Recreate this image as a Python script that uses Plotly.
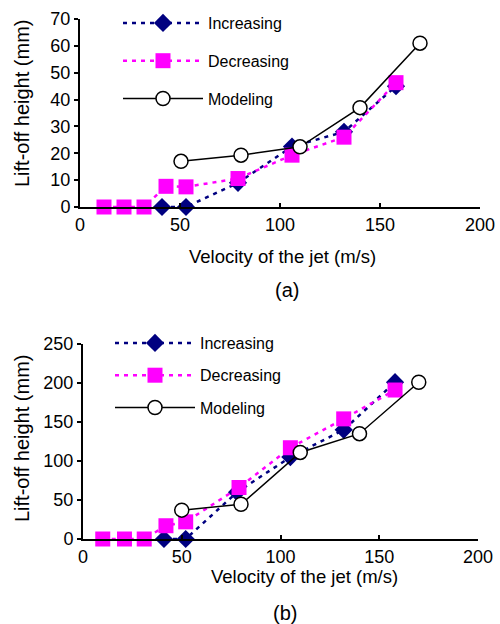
import plotly.graph_objects as go

# ---- data: panel (a) ----
inc_a_x = [41, 53, 79, 106, 132, 158]
inc_a_y = [0, 0, 9, 22.5, 28, 45]
dec_a_x = [12, 22, 32, 43, 53, 79, 106, 132, 158]
dec_a_y = [0, 0, 0, 7.7, 7.5, 10.6, 19.3, 26, 46.3]
mod_a_x = [50.5, 80.5, 110, 140, 170]
mod_a_y = [17, 19.3, 22.4, 37, 61]

# ---- data: panel (b) ----
inc_b_x = [41, 52, 78, 105, 132, 158]
inc_b_y = [0, 0, 60, 105, 140, 201]
dec_b_x = [10, 21, 31, 42, 52, 79, 105, 132, 158]
dec_b_y = [0, 0, 0, 17, 22, 66, 117, 154, 191]
mod_b_x = [50, 80, 110, 140, 170]
mod_b_y = [37, 44.5, 111, 135, 201]

x_ticks = [0, 50, 100, 150, 200]
y_ticks_a = [0, 10, 20, 30, 40, 50, 60, 70]
y_ticks_b = [0, 50, 100, 150, 200, 250]

NAVY = "#000080"
MAG = "#FF00FF"
FONT = "Liberation Sans, Arial, sans-serif"
W, H = 500, 624

fig = go.Figure()

def add_panel(xa, ya, leg, ix, iy, dx, dy, mx, my):
    fig.add_trace(go.Scatter(
        x=ix, y=iy, name="Increasing", mode="lines+markers", cliponaxis=False,
        line=dict(color=NAVY, width=2.5, dash="4px,5px"),
        marker=dict(symbol="diamond", size=14, color=NAVY),
        xaxis=xa, yaxis=ya, legend=leg, legendgroup=leg + "i"))
    fig.add_trace(go.Scatter(
        x=dx, y=dy, name="Decreasing", mode="lines+markers", cliponaxis=False,
        line=dict(color=MAG, width=2.5, dash="4px,5px"),
        marker=dict(symbol="square", size=15, color=MAG),
        xaxis=xa, yaxis=ya, legend=leg, legendgroup=leg + "d"))
    fig.add_trace(go.Scatter(
        x=mx, y=my, name="Modeling", mode="lines+markers", cliponaxis=False,
        line=dict(color="black", width=1.5),
        marker=dict(symbol="circle", size=14, color="white",
                    line=dict(color="black", width=1.5)),
        xaxis=xa, yaxis=ya, legend=leg, legendgroup=leg + "m"))

add_panel("x", "y", "legend", inc_a_x, inc_a_y, dec_a_x, dec_a_y, mod_a_x, mod_a_y)
add_panel("x2", "y2", "legend2", inc_b_x, inc_b_y, dec_b_x, dec_b_y, mod_b_x, mod_b_y)

axis_common = dict(showline=True, linecolor="black", linewidth=2, showgrid=False,
                   zeroline=False, automargin=False,
                   tickfont=dict(size=18, color="black", family=FONT),
                   tickcolor="black", tickwidth=1.5, ticklen=4)

def px_x(p):
    return p / W

def px_y(p):
    return 1 - p / H

def label(text, x, y, size, angle=0):
    return dict(text=text, x=px_x(x), y=px_y(y), xref="paper", yref="paper",
                xanchor="center", yanchor="middle", showarrow=False,
                textangle=angle, font=dict(size=size))

fig.update_layout(
    width=W, height=H, margin=dict(l=0, r=0, t=0, b=0),
    paper_bgcolor="white", plot_bgcolor="white",
    font=dict(family=FONT, color="black"),
    xaxis=dict(domain=[px_x(80), px_x(480)], anchor="y", range=[0, 200], tickvals=x_ticks,
               ticks="inside", **axis_common),
    yaxis=dict(domain=[px_y(207), px_y(19)], anchor="x", range=[0, 70], tickvals=y_ticks_a,
               ticks="outside", **axis_common),
    xaxis2=dict(domain=[px_x(83), px_x(478)], anchor="y2", range=[0, 200], tickvals=x_ticks,
                ticks="inside", **axis_common),
    yaxis2=dict(domain=[px_y(539), px_y(344)], anchor="x2", range=[0, 250], tickvals=y_ticks_b,
                ticks="outside", **axis_common),
    legend=dict(x=px_x(118), y=px_y(6), xanchor="left", yanchor="top", bgcolor="rgba(0,0,0,0)",
                font=dict(size=16), tracegroupgap=14, itemwidth=80),
    legend2=dict(x=0.22, y=px_y(326), xanchor="left", yanchor="top", bgcolor="rgba(0,0,0,0)",
                 font=dict(size=16), tracegroupgap=8.5, itemwidth=80),
    annotations=[
        label("Velocity of the jet (m/s)", 282, 256, 18.5),
        label("Velocity of the jet (m/s)", 304, 576, 18.5),
        label("Lift-off height (mm)", 22, 104, 20, -90),
        label("Lift-off height (mm)", 22, 439, 20, -90),
        label("(a)", 287, 290, 20),
        label("(b)", 285, 613, 20),
    ],
)

fig.write_html("out.html")
